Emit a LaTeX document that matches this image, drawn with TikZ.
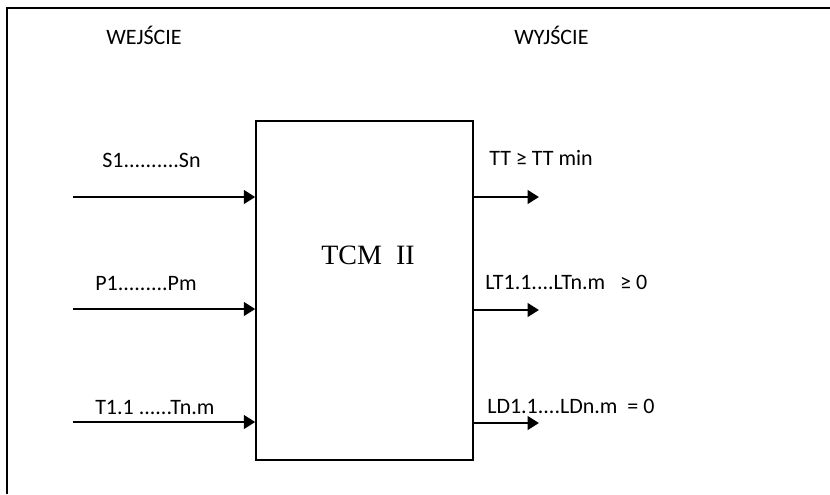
\documentclass[tikz,border=0pt]{standalone}
\usepackage{fontspec}
\setmainfont{Carlito}
\newfontfamily\tcmfont{Liberation Serif}
\usetikzlibrary{positioning,arrows.meta}

\begin{document}
\begin{tikzpicture}[
    x=0.75pt, y=-0.75pt,
    block/.style={rectangle, draw, line width=1.1pt, minimum width=162.75pt, minimum height=254.25pt, inner sep=0pt},
    arrow/.style={-{Triangle[length=8.5pt, width=10pt]}, line width=2.1pt},
    txt/.style={font=\fontsize{16.5}{20}\selectfont, inner sep=0pt, anchor=west},
    frame/.style={line width=1.4pt}
]
\useasboundingbox (0,0) rectangle (830,494);

% ===== FRAME =====
\draw[frame] (7,494) -- (7,8) -- (830,8);

% ===== HEADINGS =====
\node[txt] (wej) at (106,35) {WEJŚCIE};
\node[txt] (wyj) at (514,35) {WYJŚCIE};

% ===== BLOCK =====
\node[block] (box) at (364.5,290.5) {};
\node[font=\tcmfont\fontsize{21}{25}\selectfont, inner sep=0pt] (title) at (368,255) {TCM\ \ II};

% ===== INPUTS =====
\coordinate (s_in) at (73,197);
\coordinate (p_in) at (73,309);
\coordinate (t_in) at (73,422);
\node[txt] (s_lbl) at (102,160) {S1..........Sn};
\node[txt] (p_lbl) at (95,283) {P1.........Pm};
\node[txt] (t_lbl) at (95,407) {T1.1 ......Tn.m};

\draw[arrow] (s_in) -- (s_in -| box.west);
\draw[arrow] (p_in) -- (p_in -| box.west);
\draw[arrow] (t_in) -- (t_in -| box.west);

% ===== OUTPUTS =====
\coordinate (tt_out) at (539,197);
\coordinate (lt_out) at (539,310);
\coordinate (ld_out) at (539,423);
\node[txt] (tt_lbl) at (489,158) {TT ≥ TT min};
\node[txt] (lt_lbl) at (485,282) {LT1.1....LTn.m\ \ \ ≥ 0};
\node[txt] (ld_lbl) at (487,406) {LD1.1....LDn.m\ \ = 0};

\draw[arrow] (tt_out -| box.east) -- (tt_out);
\draw[arrow] (lt_out -| box.east) -- (lt_out);
\draw[arrow] (ld_out -| box.east) -- (ld_out);

\end{tikzpicture}
\end{document}
